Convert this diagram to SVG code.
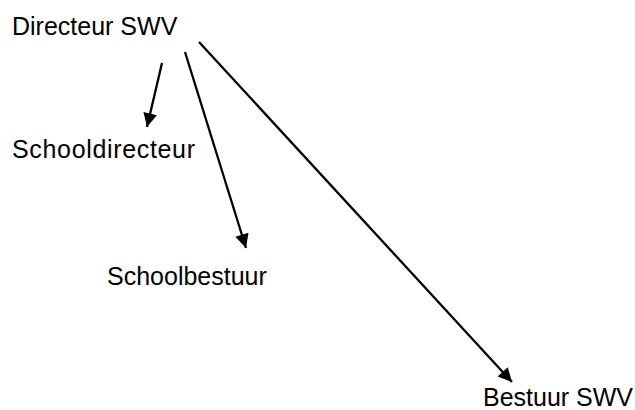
<svg xmlns="http://www.w3.org/2000/svg" width="635" height="410" viewBox="0 0 635 410">
<style>
text{font-family:"Liberation Sans",Arial,sans-serif;font-size:25px;fill:#000}
.c{stroke:#000;stroke-width:2.3;fill:none;marker-end:url(#ah)}
</style>
<defs>
<marker id="ah" viewBox="0 0 10 10" refX="10" refY="5" markerWidth="7" markerHeight="6" markerUnits="strokeWidth" orient="auto">
<path d="M0,0 L10,5 L0,10 z" fill="#000"/>
</marker>
</defs>
<rect width="635" height="410" fill="#fff"/>
<g id="connectors">
<line class="c" x1="162" y1="63" x2="147" y2="127"/>
<line class="c" x1="185" y1="52" x2="246" y2="248"/>
<line class="c" x1="199" y1="42" x2="512" y2="382"/>
</g>
<g id="directeur-swv"><text x="12" y="35">Directeur SWV</text></g>
<g id="schooldirecteur"><text x="12" y="158" textLength="183">Schooldirecteur</text></g>
<g id="schoolbestuur"><text x="107" y="285">Schoolbestuur</text></g>
<g id="bestuur-swv"><text x="483" y="406">Bestuur SWV</text></g>
</svg>
